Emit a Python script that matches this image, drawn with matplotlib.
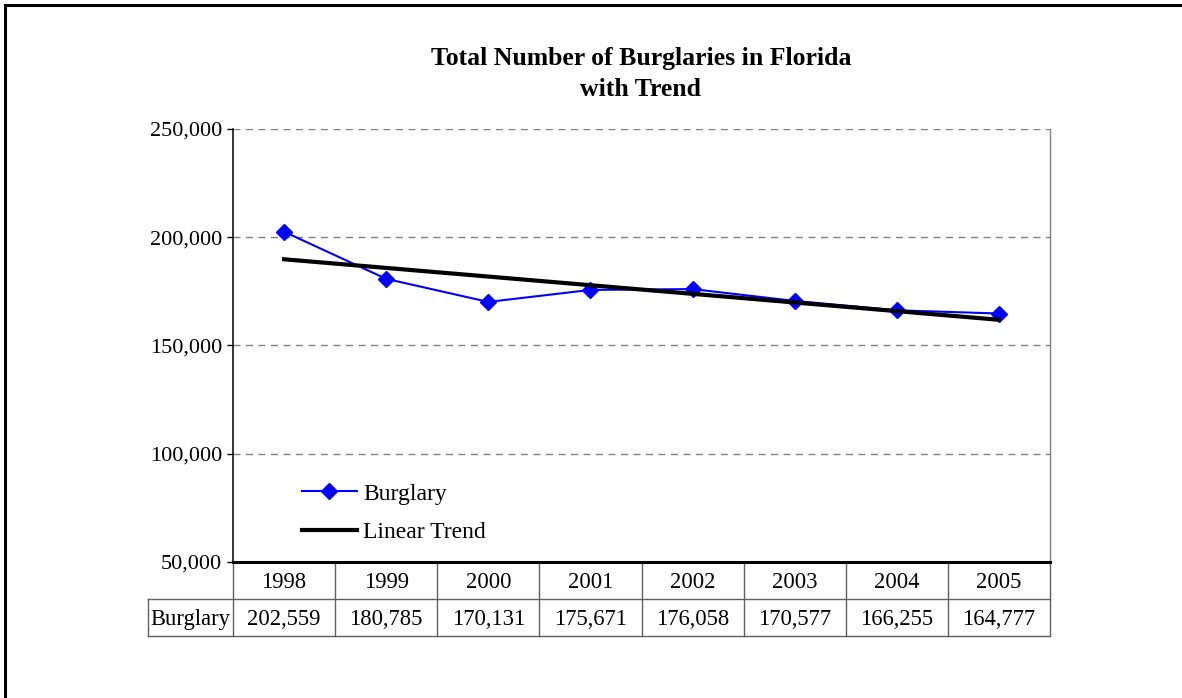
import numpy as np
import matplotlib
matplotlib.use("Agg")
import matplotlib.pyplot as plt
import matplotlib.transforms as mtransforms
from matplotlib.lines import Line2D

plt.rcParams['font.family'] = ['Liberation Serif', 'DejaVu Serif']

years = ["1998", "1999", "2000", "2001", "2002", "2003", "2004", "2005"]
burglary = [202559, 180785, 170131, 175671, 176058, 170577, 166255, 164777]
y_ticks = [50000, 100000, 150000, 200000, 250000]

x = np.arange(len(years))
slope, icept = np.polyfit(x, burglary, 1)
trend = slope * x + icept

W, H = 1182, 698
fig = plt.figure(figsize=(W / 100, H / 100), dpi=100)
ax = fig.add_axes([233 / W, 1 - 562 / H, (1050 - 233) / W, (562 - 129) / H])

# grid
for v in y_ticks[1:]:
    ax.axhline(v, color='#808080', lw=1, dashes=(5, 4), zorder=1)

ax.plot(x, burglary, color='#0000ff', lw=1.5, marker='D', markersize=8,
        label='Burglary', zorder=3)
ax.plot(x, trend, color='black', lw=3, label='Linear Trend', zorder=4)

ax.set_xlim(-0.5, len(years) - 0.5)
ax.set_ylim(50000, 250000)
ax.set_yticks(y_ticks)
ax.set_yticklabels([f"{v:,}" for v in y_ticks], fontsize=16)
ax.set_xticks([])
ax.tick_params(axis='y', direction='out', length=4, width=1, pad=4)

ax.spines['top'].set_visible(False)
ax.spines['right'].set_color('#808080')
ax.spines['right'].set_linewidth(1)
ax.spines['left'].set_linewidth(1.1)
ax.spines['bottom'].set_linewidth(2.2)
ax.spines['bottom'].set_zorder(6)

leg = ax.legend(loc='center left', bbox_to_anchor=(0.084, 0.113), frameon=False,
                fontsize=17, handlelength=2.35, handletextpad=0.25,
                labelspacing=0.72, borderpad=0, borderaxespad=0)

# data table under the plot (x in data units, y in axes units)
tr = mtransforms.blended_transform_factory(ax.transData, ax.transAxes)
row_h = (599 - 562) / 433
nudge = 2 / 433
lab_left = -0.5 - 85 / (817 / len(years))
edge = '#606060'
n = len(years)
for j in range(n + 1):
    xb = j - 0.5
    ax.add_line(Line2D([xb, xb], [-2 * row_h, 0], color=edge, lw=1,
                       transform=tr, clip_on=False))
ax.add_line(Line2D([lab_left, lab_left], [-2 * row_h, -row_h], color=edge, lw=1,
                   transform=tr, clip_on=False))
for yy in (-row_h, -2 * row_h):
    ax.add_line(Line2D([lab_left, n - 0.5], [yy, yy], color=edge, lw=1,
                       transform=tr, clip_on=False))
for j, yr in enumerate(years):
    ax.text(j, -0.5 * row_h - nudge, yr, transform=tr, ha='center', va='center',
            fontsize=16.3)
    ax.text(j, -1.5 * row_h - nudge, f"{burglary[j]:,}", transform=tr,
            ha='center', va='center', fontsize=16.3)
ax.text((lab_left - 0.5) / 2, -1.5 * row_h - nudge, 'Burglary', transform=tr,
        ha='center', va='center', fontsize=16.3)

fig.text(641 / W, 1 - 58 / H, "Total Number of Burglaries in Florida",
         ha='center', va='center', fontsize=18.5, fontweight='bold')
fig.text(641 / W, 1 - 90 / H, "with Trend",
         ha='center', va='center', fontsize=18.5, fontweight='bold')

# outer border (top and left)
fig.add_artist(Line2D([5 / W, 5 / W], [0, 1 - 5 / H], color='black', lw=2.2,
                      transform=fig.transFigure))
fig.add_artist(Line2D([5 / W, 1], [1 - 5 / H, 1 - 5 / H], color='black', lw=2.2,
                      transform=fig.transFigure))

fig.savefig("out.png", dpi=100)
